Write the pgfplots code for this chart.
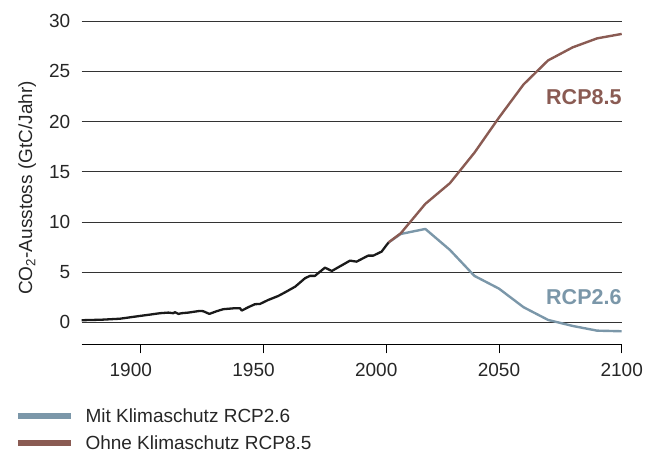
\documentclass[border=0pt]{standalone}
\usepackage{fontspec}
\setmainfont{Liberation Sans}
\usepackage{pgfplots}
\pgfplotsset{compat=1.18}
\definecolor{rcpblue}{HTML}{7B97A9}
\definecolor{rcpbrown}{HTML}{8A5B53}
\definecolor{histblack}{HTML}{1A1A1A}
\begin{document}
\begin{tikzpicture}
\path[use as bounding box] (-81.7pt,-110.7pt) rectangle (572.3pt,344.3pt);
\begin{axis}[
  scale only axis,
  width=540pt, height=323pt,
  xmin=1880, xmax=2100,
  ymin=-2.2, ymax=30,
  axis lines*=left,
  y axis line style={draw=none},
  x axis line style={black, line width=0.9pt},
  tick align=outside,
  xtick={1900,1950,2000,2050,2100},
  xtick style={draw=none},
  extra x ticks={1904,1954,2004,2050,2100},
  extra x tick labels={},
  extra x tick style={xtick style={draw=black, line width=0.8pt}, major tick length=9pt},
  ytick={0,5,10,15,20,25,30},
  ytick style={draw=none},
  ymajorgrids=true,
  grid style={black!80, line width=0.8pt},
  /pgf/number format/assume math mode=true,
  /pgf/number format/1000 sep={},
  tick label style={font=\fontsize{19}{23}\selectfont, text=black!85},
  xticklabel style={yshift=-11pt},
  yticklabel style={xshift=-3.7pt},
  ylabel={CO\textsubscript{2}-Ausstoss (GtC/Jahr)},
  every axis y label/.style={at={(axis description cs:-0.101,0.484)}, rotate=90, anchor=center, font=\fontsize{19}{23}\selectfont, text=black!85},
  legend style={at={(axis description cs:-0.1235,-0.2012)}, anchor=north west, draw=none, fill=none, inner sep=0pt, outer sep=0pt,
    font=\fontsize{19}{23}\selectfont, text=black!85, row sep=13.4pt, column sep=12pt,
    nodes={inner sep=0pt, text height=13.6pt, text depth=0pt}},
  legend cell align=left,
  legend image code/.code={\draw[#1, line width=5.5pt] (0pt,0pt) -- (53pt,0pt);},
  clip=false,
]
\addplot[rcpblue, line width=2.4pt, line join=round] coordinates {
 (2005,7.95) (2010,8.80) (2020,9.30) (2030,7.21) (2040,4.62) (2050,3.35)
 (2060,1.50) (2070,0.23) (2080,-0.37) (2090,-0.84) (2100,-0.90)
};
\addlegendentry{Mit Klimaschutz RCP2.6}
\addplot[rcpbrown, line width=2.4pt, line join=round] coordinates {
 (2005,7.95) (2010,8.87) (2020,11.8) (2030,13.86) (2040,16.9) (2050,20.4)
 (2060,23.7) (2070,26.1) (2080,27.4) (2090,28.3) (2100,28.74)
};
\addlegendentry{Ohne Klimaschutz RCP8.5}
\addplot[histblack, line width=2.3pt, line join=round, forget plot] coordinates {
 (1880,0.20) (1888,0.25) (1895.6,0.35) (1903.8,0.63) (1907.8,0.76) (1911.9,0.90)
 (1915.3,0.96) (1917.3,0.90) (1918,1.00) (1919.4,0.83) (1920.7,0.90) (1923.4,0.96)
 (1928.2,1.13) (1929.5,1.10) (1932,0.83) (1935,1.10) (1937.7,1.30) (1942.5,1.40)
 (1944.5,1.40) (1945.2,1.16) (1947.9,1.50) (1950.6,1.80) (1952.6,1.82) (1956,2.22)
 (1960.1,2.62) (1963,3.00) (1967,3.55) (1971,4.39) (1973,4.62) (1975,4.62)
 (1979.1,5.44) (1981.9,5.11) (1989.3,6.14) (1992,6.04) (1996.7,6.64) (1998.8,6.64)
 (2002.2,7.04) (2005,7.95)
};
\node[anchor=east, inner sep=0pt, text=rcpbrown, font=\fontsize{21.5}{25}\selectfont\bfseries] at (axis cs:2100,22.4) {RCP8.5};
\node[anchor=east, inner sep=0pt, text=rcpblue, font=\fontsize{21.5}{25}\selectfont\bfseries] at (axis cs:2100,2.5) {RCP2.6};
\end{axis}
\end{tikzpicture}
\end{document}
